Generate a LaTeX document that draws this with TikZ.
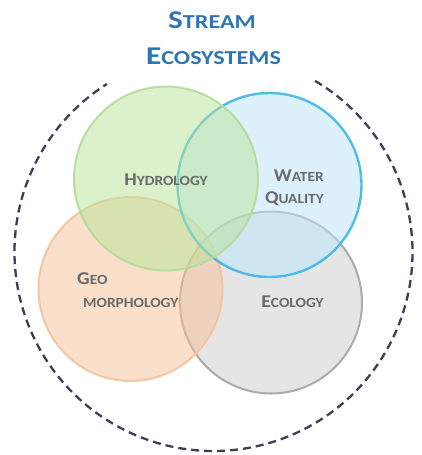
\documentclass[tikz,border=0pt]{standalone}
\usepackage{fontspec}
\setmainfont{Carlito}
\newfontfamily\titlefont[FakeStretch=1.22]{Carlito}
\newfontfamily\lblfont[FakeStretch=1.1]{Carlito}
\definecolor{titleblue}{HTML}{2E75B6}
\definecolor{lblgray}{HTML}{6A6A6A}
\definecolor{dashcol}{HTML}{3B4058}
\definecolor{grfill}{HTML}{B9E599}
\definecolor{grline}{HTML}{B3DC98}
\definecolor{blfill}{HTML}{BBE5F9}
\definecolor{blline}{HTML}{40B6E7}
\definecolor{orfill}{HTML}{F7C096}
\definecolor{orline}{HTML}{F4C29C}
\definecolor{gyfill}{HTML}{CDCDCD}
\definecolor{gyline}{HTML}{A4A4A4}
\newcommand\ttlsc[2]{#1{\fontsize{19.8pt}{22pt}\selectfont #2}}
\newcommand\lblsc[2]{#1{\fontsize{14pt}{16pt}\selectfont #2}}
\tikzset{
  venn/.style={circle, inner sep=0pt, minimum size=#1, line width=2pt, fill opacity=0.5, draw opacity=0.9},
  ttl/.style={anchor=base, text=titleblue, font=\titlefont\bfseries\fontsize{25.6pt}{28pt}\selectfont, inner sep=0pt},
  lbl/.style={text=lblgray, font=\lblfont\bfseries\fontsize{18pt}{20pt}\selectfont, inner sep=0pt},
  outer/.style={draw=dashcol, line width=2.3pt, dash pattern=on 8pt off 5pt}
}
\begin{document}
\begin{tikzpicture}[x=1pt, y=-1pt]
\useasboundingbox (0,0) rectangle (422,455);
\fill[white] (0,0) rectangle (422,455);
% outer dashed boundary
\coordinate (ctr) at (213.5,252);
\draw[outer] (ctr) ++(-59.3:199) arc[start angle=-59.3, end angle=237.6, radius=199];
% circles
\node[venn=182pt, fill=gyfill, draw=gyline] (ecoc) at (271,302.5) {};
\node[venn=184pt, fill=orfill, draw=orline] (geoc) at (130.5,289) {};
\node[venn=184pt, fill=blfill, draw=blline, line width=2.4pt] (watc) at (269.5,185) {};
\node[venn=184pt, fill=grfill, draw=grline] (hydc) at (166,178.5) {};
% title
\node[ttl] (t1) at (212,28) {\ttlsc{S}{TREAM}};
\node[ttl] (t2) at (213.5,64) {\ttlsc{E}{COSYSTEMS}};
% labels
\node[lbl, anchor=base] (hyd) at (166,185) {\lblsc{H}{YDROLOGY}};
\node[lbl, anchor=base east] (wat1) at (324,181) {\lblsc{W}{ATER}};
\node[lbl, anchor=base east] (wat2) at (324,203) {\lblsc{Q}{UALITY}};
\node[lbl, anchor=base west] (geo1) at (77,284) {\lblsc{G}{EO}};
\node[lbl, anchor=base west] (geo2) at (83,307) {\lblsc{}{MORPHOLOGY}};
\node[lbl, anchor=base] (eco) at (292.5,307) {\lblsc{E}{COLOGY}};
\end{tikzpicture}
\end{document}
